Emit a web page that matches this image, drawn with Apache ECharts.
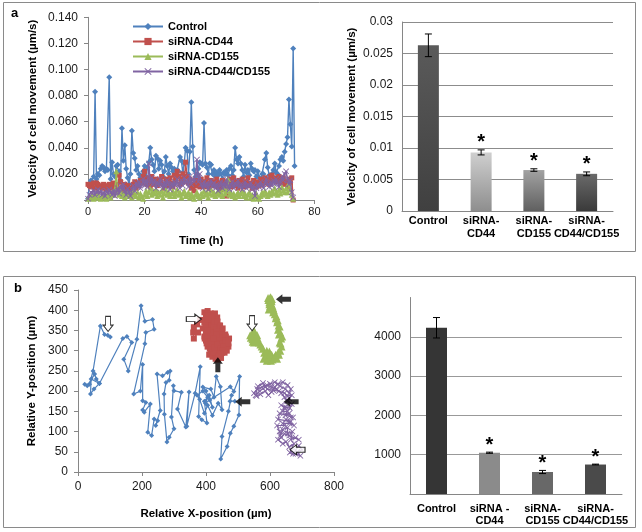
<!DOCTYPE html>
<html><head><meta charset="utf-8">
<script src="https://cdn.jsdelivr.net/npm/echarts@6/dist/echarts.min.js"></script>
<style>html,body{margin:0;padding:0;background:#fff}#c{width:642px;height:532px}</style>
</head><body><div id="c"></div>
<script>
// ---------- Panel a (left): velocity over time ----------
const timeStep = 0.5; // hours between samples
const seriesNames = ['Control', 'siRNA-CD44', 'siRNA-CD155', 'siRNA-CD44/CD155'];
const velControl = [
0.001,0.012,0.015,0.014,0.018,0.083,0.016,0.020,0.019,0.024,
0.026,0.025,0.022,0.024,0.023,0.094,0.016,0.029,0.020,0.018,
0.026,0.027,0.022,0.015,0.055,0.030,0.042,0.024,0.017,0.012,
0.020,0.053,0.036,0.032,0.023,0.026,0.020,0.017,0.016,0.022,
0.026,0.018,0.025,0.029,0.040,0.031,0.027,0.022,0.034,0.032,
0.024,0.030,0.027,0.018,0.022,0.033,0.026,0.020,0.028,0.025,
0.022,0.024,0.018,0.023,0.022,0.033,0.030,0.021,0.028,0.040,
0.038,0.020,0.037,0.075,0.041,0.023,0.018,0.020,0.024,0.029,
0.028,0.027,0.059,0.028,0.025,0.020,0.028,0.027,0.020,0.023,
0.018,0.021,0.019,0.023,0.020,0.016,0.021,0.020,0.023,0.019,
0.024,0.026,0.019,0.023,0.040,0.031,0.028,0.033,0.028,0.023,
0.018,0.027,0.021,0.023,0.019,0.028,0.024,0.022,0.023,0.018,
0.022,0.017,0.014,0.020,0.020,0.031,0.036,0.025,0.019,0.015,
0.020,0.023,0.028,0.021,0.020,0.026,0.031,0.033,0.030,0.037,
0.043,0.048,0.077,0.058,0.041,0.116,0.026];
const velCD44 = [
0.012,0.011,0.010,0.012,0.013,0.009,0.013,0.012,0.010,0.011,
0.009,0.012,0.010,0.008,0.011,0.012,0.010,0.009,0.013,0.011,
0.012,0.008,0.019,0.014,0.010,0.007,0.012,0.008,0.011,0.006,
0.009,0.005,0.012,0.014,0.009,0.013,0.011,0.015,0.013,0.018,
0.022,0.015,0.012,0.017,0.010,0.018,0.014,0.012,0.016,0.011,
0.015,0.013,0.018,0.012,0.009,0.016,0.014,0.011,0.017,0.013,
0.010,0.019,0.015,0.022,0.018,0.012,0.016,0.020,0.014,0.029,
0.018,0.013,0.016,0.009,0.012,0.007,0.015,0.011,0.013,0.010,
0.016,0.012,0.014,0.010,0.017,0.013,0.009,0.015,0.011,0.014,
0.012,0.016,0.010,0.013,0.008,0.015,0.011,0.014,0.003,0.012,
0.016,0.010,0.013,0.017,0.011,0.014,0.009,0.015,0.012,0.016,
0.010,0.014,0.012,0.017,0.011,0.013,0.009,0.015,0.012,0.010,
0.014,0.011,0.016,0.012,0.015,0.017,0.013,0.016,0.012,0.018,
0.019,0.015,0.017,0.014,0.016,0.018,0.013,0.015,0.017,0.012,
0.014,0.010,0.016,0.013,0.017,0.000];
const velCD155 = [
0.001,0.003,0.002,0.004,0.001,0.003,0.002,0.005,0.002,0.001,
0.003,0.002,0.004,0.001,0.005,0.003,0.002,0.006,0.004,0.008,
0.022,0.006,0.004,0.007,0.003,0.005,0.002,0.004,0.006,0.003,
0.005,0.002,0.007,0.004,0.003,0.006,0.002,0.005,0.003,0.001,
0.004,0.007,0.003,0.006,0.009,0.004,0.007,0.005,0.008,0.003,
0.006,0.004,0.007,0.002,0.005,0.008,0.004,0.006,0.003,0.005,
0.007,0.003,0.005,0.008,0.004,0.006,0.002,0.005,0.007,0.003,
0.004,0.006,0.002,0.005,0.003,0.001,0.004,0.006,0.003,0.002,
0.005,0.003,0.007,0.004,0.006,0.002,0.005,0.008,0.004,0.006,
0.003,0.005,0.007,0.004,0.006,0.003,0.009,0.005,0.007,0.016,
0.004,0.006,0.003,0.005,0.002,0.004,0.006,0.003,0.005,0.007,
0.003,0.005,0.002,0.004,0.006,0.002,0.004,0.001,0.003,0.005,
0.002,0.001,0.003,0.006,0.004,0.007,0.005,0.003,0.006,0.004,
0.007,0.005,0.009,0.006,0.004,0.008,0.005,0.010,0.007,0.006,
0.009,0.006,0.013,0.008,0.004,0.001];
const velCD44CD155 = [
0.001,0.004,0.006,0.005,0.007,0.004,0.006,0.008,0.005,0.007,
0.004,0.006,0.003,0.007,0.005,0.008,0.006,0.004,0.007,0.003,
0.006,0.009,0.005,0.011,0.008,0.012,0.007,0.004,0.009,0.006,
0.003,0.008,0.011,0.007,0.013,0.010,0.014,0.009,0.012,0.016,
0.011,0.015,0.010,0.028,0.013,0.017,0.012,0.015,0.009,0.014,
0.011,0.016,0.012,0.009,0.014,0.010,0.015,0.012,0.008,0.013,
0.010,0.014,0.011,0.016,0.012,0.009,0.015,0.011,0.017,0.013,
0.015,0.010,0.018,0.012,0.016,0.014,0.019,0.031,0.014,0.020,
0.012,0.009,0.014,0.010,0.013,0.008,0.012,0.015,0.010,0.013,
0.009,0.012,0.007,0.011,0.014,0.009,0.013,0.010,0.016,0.011,
0.008,0.012,0.014,0.009,0.013,0.011,0.015,0.010,0.012,0.008,
0.011,0.014,0.009,0.012,0.010,0.013,0.008,0.011,0.003,0.009,
0.012,0.010,0.014,0.011,0.009,0.013,0.016,0.012,0.010,0.014,
0.011,0.015,0.012,0.016,0.013,0.010,0.014,0.018,0.015,0.020,
0.022,0.016,0.012,0.015,0.006,0.002];
const timeTicks = [0, 20, 40, 60, 80];

// ---------- Panel a (right): mean velocity ----------
const catA = ['Control', 'siRNA-\nCD44', 'siRNA-\nCD155', 'siRNA-\nCD44/CD155'];
const meanVel = [0.0263, 0.0093, 0.0065, 0.0059];
const meanVelErr = [0.0018, 0.0004, 0.0002, 0.0003];
const sigA = [0, 1, 1, 1];

// ---------- Panel b (left): cell tracks (µm) ----------
const trackControl = [
[101,334],[93,338],[83,340],[70,361],[47,250],[36,217],[21,217],[29,213],[52,242],[57,230],[67,219],[41,230],[39,193],[50,205],[67,219],
[140,330],[153,335],[168,320],[143,279],[157,250],[184,328],[197,411],[209,373],[233,377],[238,353],[212,345],[209,317],[174,193],[195,200],
[202,266],[202,176],[212,172],[202,153],[207,148],[226,168],[218,98],[230,90],[238,131],[249,127],[243,115],[257,152],[247,242],[264,238],
[280,246],[288,250],[285,227],[275,221],[269,193],[270,143],[278,74],[285,86],[300,107],[292,136],[298,213],[300,201],[323,197],[311,156],
[337,111],[347,198],[340,113],[366,195],[382,260],[377,137],[387,129],[403,121],[395,175],[410,190],[420,160],[400,200],[390,210],[415,205],
[425,185],[432,236],[445,211],[450,154],[438,170],[420,140],[405,165],[395,145],[380,180],[372,190],[390,200],[405,185],[398,170],[412,178],
[476,211],[487,199],[505,236],[503,141],[487,113],[476,96],[466,63],[446,32],[450,88],[470,150],[480,190],[475,175],[490,175]];
const trackCD44 = [
[382,376],[372,365],[362,358],[360,345],[362,330],[375,345],[390,355],[395,370],[400,385],[395,395],[405,398],[415,392],[420,388],[425,380],
[418,372],[410,365],[405,355],[400,345],[395,335],[400,325],[410,320],[405,310],[415,300],[410,290],[420,285],[430,280],[438,290],[445,285],
[450,295],[455,305],[465,300],[470,310],[468,322],[472,330],[462,335],[455,325],[450,340],[445,352],[440,345],[432,360],[425,350],[420,340],
[428,330],[438,325],[445,315],[440,305],[430,300],[420,310],[425,320],[415,330],[410,340],[420,355],[430,370],[435,382],[428,392],[420,385],
[412,378],[418,360],[428,345],[438,338],[448,330],[458,318],[462,305],[400,380],[408,388],[398,362],[412,350],[424,362],[433,352],[442,362],
[450,348],[460,340],[466,318],[458,295],[447,282],[432,288],[422,296],[412,305],[402,318],[396,330],[404,338],[416,318],[426,308],[436,316],
[446,305],[455,312],[452,325],[442,332],[432,340],[424,330],[414,345],[404,350],[398,372],[406,378],[416,382],[426,372],[436,372],[444,362],
[452,355],[462,325],[470,318],[452,300],[445,292],[440,285],[437,278]];
const trackCD155 = [
[548,335],[555,340],[545,328],[540,332],[552,345],[543,340],[550,350],[558,332],[546,322],[538,338],[553,328],[560,338],[558,325],[550,320],
[562,330],[565,320],[570,315],[574,310],[578,305],[582,295],[588,290],[580,280],[585,282],[590,275],[595,278],[598,283],[603,275],[605,290],
[598,298],[590,300],[592,292],[600,292],[608,278],[612,282],[615,285],[618,290],[622,280],[625,295],[628,290],[632,300],[636,310],[633,318],
[630,320],[635,330],[638,335],[632,345],[628,340],[625,352],[630,360],[627,362],[622,370],[624,375],[618,380],[620,385],[615,390],[612,400],
[610,395],[608,410],[610,405],[605,415],[602,418],[598,420],[595,425],[594,430],[600,430],[602,432],[606,428],[605,422],[600,410],[596,402],
[598,415],[603,425]];
const trackCD44CD155 = [
[668,52],[680,45],[695,40],[685,50],[700,55],[690,65],[672,45],[662,48],[675,70],[660,62],[650,75],[640,70],[625,80],[635,85],[645,95],
[660,90],[690,80],[680,85],[665,80],[670,100],[655,95],[655,110],[640,105],[632,90],[630,100],[622,115],[645,115],[640,120],[660,120],
[675,115],[650,130],[665,125],[625,130],[630,145],[672,135],[665,135],[660,145],[648,140],[655,150],[640,150],[645,160],[635,165],[650,160],
[662,158],[668,168],[655,175],[645,185],[635,195],[620,205],[605,210],[590,215],[575,210],[560,205],[550,195],[558,188],[570,192],[585,200],
[595,190],[605,198],[615,210],[625,218],[640,222],[655,215],[665,205],[660,195],[648,205],[632,212],[615,222],[600,218],[585,210],[568,200],
[555,190],[562,212],[578,220],[592,205],[610,202],[628,200],[645,195],[655,188],[668,190],[660,182],[652,176]];
// arrows: [x, y, direction, filled]  (start = open arrow, end = filled arrow)
const trackArrows = [
[94,366,'down',0],[515,174,'left',1],
[362,378,'right',0],[437,265,'up',1],
[544,368,'down',0],[642,427,'left',1],
[666,174,'left',1],[686,55,'left',0]];

// ---------- Panel b (right): total distance ----------
const catB = ['Control', 'siRNA -\nCD44', 'siRNA-\nCD155', 'siRNA-\nCD44/CD155'];
const totalDist = [4230, 1050, 560, 750];
const totalDistErr = [260, 15, 40, 10];
const sigB = [0, 1, 1, 1];

// ---------- build ----------
const FONT = 'Liberation Sans, Arial, sans-serif';
const colors = ['#4F81BD', '#C0504D', '#9BBB59', '#8064A2'];
const xPath = 'path://M0,1 L1,0 L5,4 L9,0 L10,1 L6,5 L10,9 L9,10 L5,6 L1,10 L0,9 L4,5 Z';
const arrowPath = 'path://M0,2.5 L8,2.5 L8,0 L14,5 L8,10 L8,7.5 L0,7.5 Z';
const rotOf = {right: 0, up: 90, left: 180, down: -90};

const velSets = [velControl, velCD44, velCD155, velCD44CD155];
const symA = ['diamond', 'rect', 'triangle', xPath];
const symSizeA = [6, 5, 6, 6];
const tracks = [trackControl, trackCD44, trackCD155, trackCD44CD155];
const symSizeB = [5, 6, 8, 6];

const axisGray = '#868686';
const lblStyle = {color: '#1a1a1a', fontFamily: FONT, fontSize: 11};
const nameStyle = {color: '#000', fontFamily: FONT, fontSize: 11.5, fontWeight: 'bold'};

function errRender(params, api) {
  const i = api.value(0), v = api.value(1), e = api.value(2), s = api.value(3);
  const top = api.coord([i, v + e]), bot = api.coord([i, v - e]);
  const w = 3.5;
  const st = {stroke: '#000', lineWidth: 1};
  const ch = [
    {type: 'line', shape: {x1: top[0], y1: top[1], x2: bot[0], y2: bot[1]}, style: st},
    {type: 'line', shape: {x1: top[0] - w, y1: top[1], x2: top[0] + w, y2: top[1]}, style: st},
    {type: 'line', shape: {x1: bot[0] - w, y1: bot[1], x2: bot[0] + w, y2: bot[1]}, style: st}
  ];
  if (s) ch.push({type: 'text', x: top[0], y: top[1] + 3, style: {text: '*', fill: '#000', font: 'bold 20px ' + FONT, textAlign: 'center', textVerticalAlign: 'bottom'}});
  return {type: 'group', children: ch};
}

const gradA = [['#5a5a5a', '#404040'], ['#cfcfcf', '#8e8e8e'], ['#a2a2a2', '#606060'], ['#6a6a6a', '#3a3a3a']];
const flatB = ['#353535', '#8b8b8b', '#686868', '#4a4a4a'];

const series = [];
velSets.forEach((vals, k) => {
  series.push({
    name: seriesNames[k], type: 'line', xAxisIndex: 0, yAxisIndex: 0,
    data: vals.map((v, i) => [i * timeStep, v]),
    symbol: symA[k], symbolSize: symSizeA[k], showSymbol: true,
    lineStyle: {width: 1.4, color: colors[k]}, itemStyle: {color: colors[k]},
    animation: false, z: 2 + k
  });
});
series.push({
  type: 'bar', xAxisIndex: 1, yAxisIndex: 1, barWidth: 21,
  data: meanVel.map((v, i) => ({value: v, itemStyle: {color: new echarts.graphic.LinearGradient(0, 0, 0, 1, [{offset: 0, color: gradA[i][0]}, {offset: 1, color: gradA[i][1]}])}})),
  animation: false
});
series.push({
  type: 'custom', xAxisIndex: 1, yAxisIndex: 1, renderItem: errRender, z: 10,
  data: meanVel.map((v, i) => [i, v, meanVelErr[i], sigA[i]]), animation: false
});
tracks.forEach((tr, k) => {
  series.push({
    name: seriesNames[k] + ' track', type: 'line', xAxisIndex: 2, yAxisIndex: 2,
    data: tr, symbol: symA[k], symbolSize: symSizeB[k], showSymbol: true,
    lineStyle: {width: 1.2, color: colors[k]}, itemStyle: {color: colors[k]},
    animation: false, z: 2 + k
  });
});
series.push({
  type: 'scatter', xAxisIndex: 2, yAxisIndex: 2, z: 20, symbol: arrowPath, symbolSize: [15, 10],
  data: trackArrows.map(a => ({value: [a[0], a[1]], symbolRotate: rotOf[a[2]],
    itemStyle: {color: a[3] ? '#000' : '#fff', borderColor: '#000', borderWidth: a[3] ? 0 : 1}})),
  animation: false
});
series.push({
  type: 'bar', xAxisIndex: 3, yAxisIndex: 3, barWidth: 21,
  data: totalDist.map((v, i) => ({value: v, itemStyle: {color: flatB[i]}})),
  animation: false
});
series.push({
  type: 'custom', xAxisIndex: 3, yAxisIndex: 3, renderItem: errRender, z: 10,
  data: totalDist.map((v, i) => [i, v, totalDistErr[i], sigB[i]]), animation: false
});

const option = {
  backgroundColor: '#fff',
  animation: false,
  textStyle: {fontFamily: FONT},
  graphic: [
    {type: 'rect', shape: {x: 3.5, y: 2.5, width: 632, height: 249}, style: {fill: null, stroke: '#8a8a8a', lineWidth: 1}},
    {type: 'rect', shape: {x: 3.5, y: 276.5, width: 632, height: 251}, style: {fill: null, stroke: '#8a8a8a', lineWidth: 1}},
    {type: 'text', left: 11, top: 7, style: {text: 'a', font: 'bold 13px ' + FONT, fill: '#000'}},
    {type: 'text', left: 14, top: 282, style: {text: 'b', font: 'bold 13px ' + FONT, fill: '#000'}}
  ],
  legend: {
    data: seriesNames, orient: 'vertical', left: 132, top: 21, padding: 0,
    itemWidth: 30, itemHeight: 9, itemGap: 4,
    textStyle: {fontFamily: FONT, fontSize: 11, fontWeight: 'bold', color: '#000'}
  },
  grid: [
    {left: 88, top: 17.3, width: 226.4, height: 182.7},
    {left: 402, top: 22, width: 211, height: 189},
    {left: 78, top: 290, width: 256, height: 182},
    {left: 410, top: 297.5, width: 212, height: 196.5}
  ],
  xAxis: [
    {gridIndex: 0, type: 'value', min: timeTicks[0], max: timeTicks[timeTicks.length - 1], interval: 20,
     axisLine: {show: true, lineStyle: {color: axisGray}}, axisTick: {show: true, length: 4, lineStyle: {color: axisGray}},
     splitLine: {show: false}, axisLabel: Object.assign({margin: 6}, lblStyle),
     name: 'Time (h)', nameLocation: 'middle', nameGap: 35, nameTextStyle: nameStyle},
    {gridIndex: 1, type: 'category', data: catA,
     axisLine: {show: true, lineStyle: {color: axisGray}}, axisTick: {show: false},
     axisLabel: {interval: 0, margin: 3, color: '#000', fontFamily: FONT, fontSize: 11, fontWeight: 'bold', lineHeight: 13}},
    {gridIndex: 2, type: 'value', min: 0, max: 800, interval: 200,
     axisLine: {show: true, lineStyle: {color: axisGray}}, axisTick: {show: true, length: 4, lineStyle: {color: axisGray}},
     splitLine: {show: false}, axisLabel: Object.assign({margin: 9}, lblStyle, {fontSize: 12}),
     name: 'Relative X-position (µm)', nameLocation: 'middle', nameGap: 36, nameTextStyle: nameStyle},
    {gridIndex: 3, type: 'category', data: catB,
     axisLine: {show: true, lineStyle: {color: axisGray}}, axisTick: {show: false},
     axisLabel: {interval: 0, margin: 9, color: '#000', fontFamily: FONT, fontSize: 11, fontWeight: 'bold', lineHeight: 12}}
  ],
  yAxis: [
    {gridIndex: 0, type: 'value', min: 0, max: 0.14, interval: 0.02,
     axisLine: {show: true, lineStyle: {color: axisGray}}, axisTick: {show: true, length: 4, lineStyle: {color: axisGray}},
     splitLine: {show: false},
     axisLabel: Object.assign({margin: 10, formatter: v => v === 0 ? '' : v.toFixed(3)}, lblStyle, {fontSize: 12}),
     name: 'Velocity of cell movement (µm/s)', nameLocation: 'middle', nameGap: 49, nameTextStyle: nameStyle},
    {gridIndex: 1, type: 'value', min: 0, max: 0.03, interval: 0.005,
     axisLine: {show: true, lineStyle: {color: axisGray}}, axisTick: {show: false},
     splitLine: {show: true, lineStyle: {color: '#8c8c8c'}},
     axisLabel: Object.assign({margin: 9, formatter: v => v === 0 ? '0' : String(+v.toFixed(3))}, lblStyle, {fontSize: 12}),
     name: 'Velocity of cell movement (µm/s)', nameLocation: 'middle', nameGap: 44, nameTextStyle: nameStyle},
    {gridIndex: 2, type: 'value', min: 0, max: 450, interval: 50,
     axisLine: {show: true, lineStyle: {color: axisGray}}, axisTick: {show: true, length: 4, lineStyle: {color: axisGray}},
     splitLine: {show: false}, axisLabel: Object.assign({margin: 10}, lblStyle, {fontSize: 12}),
     name: 'Relative Y-position (µm)', nameLocation: 'middle', nameGap: 40, nameTextStyle: nameStyle},
    {gridIndex: 3, type: 'value', min: 0, max: 5000, interval: 1000,
     axisLine: {show: true, lineStyle: {color: axisGray}}, axisTick: {show: false},
     splitLine: {show: true, lineStyle: {color: ['#999', '#999', '#999', '#999', '#999', 'rgba(0,0,0,0)']}},
     axisLabel: Object.assign({margin: 9, formatter: v => (v === 0 || v === 5000) ? '' : String(v)}, lblStyle, {fontSize: 12})}
  ],
  series: series
};
const chart = echarts.init(document.getElementById('c'), null, {renderer: 'canvas'});
chart.setOption(option);
</script></body></html>
